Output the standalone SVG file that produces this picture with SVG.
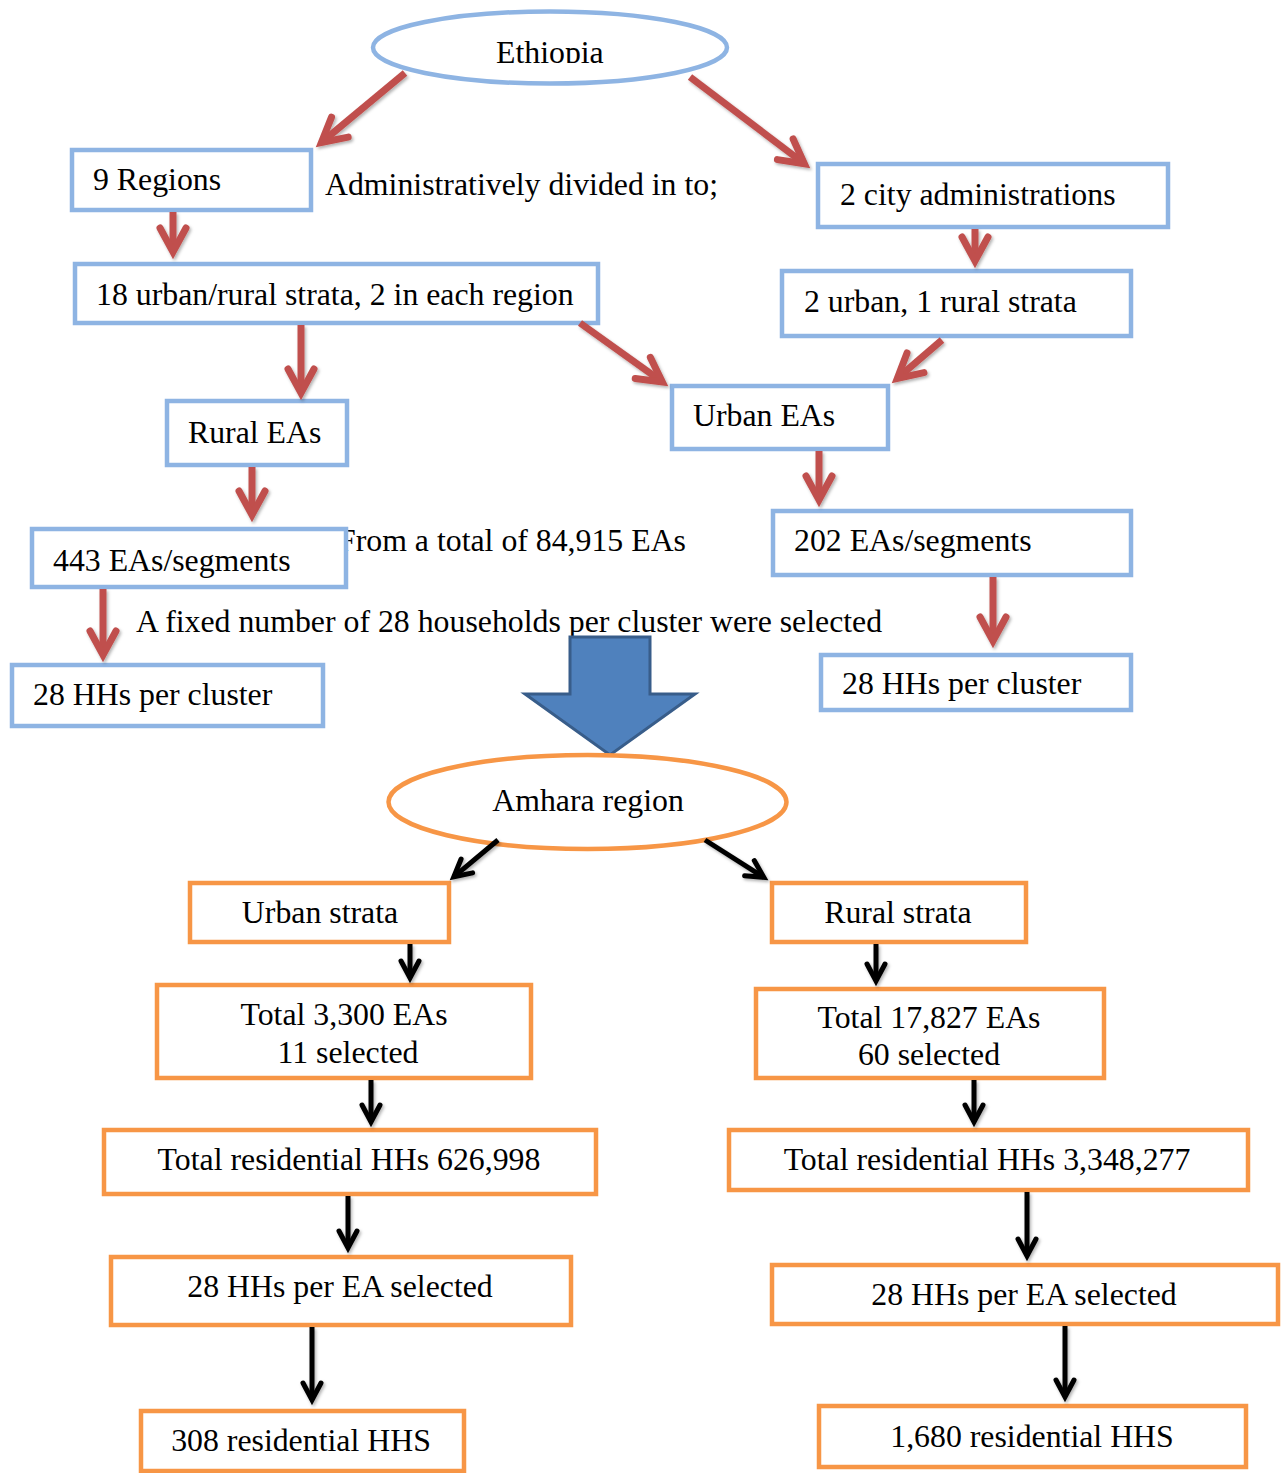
<svg xmlns="http://www.w3.org/2000/svg" width="1285" height="1473" viewBox="0 0 1285 1473">
<style>
text{font-family:"Liberation Serif","Times New Roman",serif;font-size:31.8px;fill:#000}
.c{text-anchor:middle}
.bb{fill:#fff;stroke:#8EB4E3;stroke-width:4.5}
.ob{fill:#fff;stroke:#F79646;stroke-width:4.5}
.red{stroke:#C0504D;stroke-width:7;fill:none;marker-end:url(#rh)}
.blk{stroke:#000;stroke-width:5;fill:none;marker-end:url(#bh)}
</style>
<defs>
<marker id="rh" markerUnits="userSpaceOnUse" orient="auto" refX="0" refY="0" markerWidth="60" markerHeight="60" overflow="visible">
<path d="M-24,-13 L0,0 L-24,13" fill="none" stroke="#C0504D" stroke-width="7" stroke-linecap="round"/>
</marker>
<marker id="bh" markerUnits="userSpaceOnUse" orient="auto" refX="0" refY="0" markerWidth="40" markerHeight="40" overflow="visible">
<path d="M-17,-9 L0,0 L-17,9" fill="none" stroke="#000" stroke-width="5" stroke-linecap="round"/>
</marker>
<filter id="sh" x="-20%" y="-20%" width="140%" height="140%">
<feDropShadow dx="1.5" dy="2" stdDeviation="1.5" flood-color="#000" flood-opacity="0.3"/>
</filter>
<clipPath id="ethclip"><rect x="370" y="0" width="360" height="63"/></clipPath>
</defs>

<g id="labels">
<text x="325" y="195">Administratively divided in to;</text>
<text x="338" y="551">From a total of 84,915 EAs</text>
<text x="136" y="632">A fixed number of 28 households per cluster were selected</text>
</g>

<g id="n-ethiopia">
<ellipse cx="550" cy="47.5" rx="177" ry="36" fill="#fff" stroke="#8EB4E3" stroke-width="4.5"/>
<text x="496" y="63" clip-path="url(#ethclip)">Ethiopia</text>
</g>
<g id="n-regions"><rect class="bb" x="72" y="150" width="239" height="60"/><text x="93" y="190">9 Regions</text></g>
<g id="n-city"><rect class="bb" x="818" y="164" width="350" height="63"/><text x="840" y="205">2 city administrations</text></g>
<g id="n-strata18"><rect class="bb" x="75" y="264" width="523" height="59"/><text x="96" y="305">18 urban/rural strata, 2 in each region</text></g>
<g id="n-strata3"><rect class="bb" x="782" y="271" width="349" height="65"/><text x="804" y="312">2 urban, 1 rural strata</text></g>
<g id="n-ruralEA"><rect class="bb" x="167" y="401" width="180" height="64"/><text x="188" y="443">Rural EAs</text></g>
<g id="n-urbanEA"><rect class="bb" x="672" y="386" width="216" height="63"/><text x="693" y="426">Urban EAs</text></g>
<g id="n-443"><rect class="bb" x="32" y="529" width="314" height="58"/><text x="53" y="571">443 EAs/segments</text></g>
<g id="n-202"><rect class="bb" x="773" y="511" width="358" height="64"/><text x="794" y="551">202 EAs/segments</text></g>
<g id="n-hhL"><rect class="bb" x="12" y="665" width="311" height="61"/><text x="33" y="705">28 HHs per cluster</text></g>
<g id="n-hhR"><rect class="bb" x="821" y="655" width="310" height="55"/><text x="842" y="694">28 HHs per cluster</text></g>

<g id="n-blockarrow">
<polygon points="570,637 650,637 650,694 695,694 610,755 525,694 570,694" fill="#4F81BD" stroke="#385D8A" stroke-width="3" stroke-linejoin="miter"/>
</g>

<g id="n-amhara">
<ellipse cx="587.5" cy="802" rx="199" ry="47" fill="#fff" stroke="#F79646" stroke-width="4.5"/>
<text class="c" x="588" y="811">Amhara region</text>
</g>
<g id="n-urbanstrata"><rect class="ob" x="190" y="883" width="259" height="59"/><text class="c" x="320" y="923">Urban strata</text></g>
<g id="n-ruralstrata"><rect class="ob" x="772" y="883" width="254" height="59"/><text class="c" x="898" y="923">Rural strata</text></g>
<g id="n-u3300"><rect class="ob" x="157" y="985" width="374" height="93"/><text class="c" x="344" y="1025">Total 3,300 EAs</text><text class="c" x="348" y="1063">11 selected</text></g>
<g id="n-r17827"><rect class="ob" x="756" y="989" width="348" height="89"/><text class="c" x="929" y="1028">Total 17,827 EAs</text><text class="c" x="929" y="1065">60 selected</text></g>
<g id="n-uHH"><rect class="ob" x="104" y="1130" width="492" height="64"/><text class="c" x="349" y="1170">Total residential HHs 626,998</text></g>
<g id="n-rHH"><rect class="ob" x="729" y="1130" width="519" height="60"/><text class="c" x="987" y="1170">Total residential HHs 3,348,277</text></g>
<g id="n-u28"><rect class="ob" x="111" y="1257" width="460" height="68"/><text class="c" x="340" y="1297">28 HHs per EA selected</text></g>
<g id="n-r28"><rect class="ob" x="772" y="1265" width="506" height="59"/><text class="c" x="1024" y="1305">28 HHs per EA selected</text></g>
<g id="n-u308"><rect class="ob" x="141" y="1411" width="323" height="60"/><text class="c" x="301" y="1451">308 residential HHS</text></g>
<g id="n-r1680"><rect class="ob" x="819" y="1406" width="427" height="61"/><text class="c" x="1032" y="1447">1,680 residential HHS</text></g>

<g id="connectors" filter="url(#sh)">
<path class="red" d="M405,73 L321.4,142.5"/>
<path class="red" d="M690,77 L804.4,163.8"/>
<path class="red" d="M173,212 L173,252"/>
<path class="red" d="M975,229 L975,261"/>
<path class="red" d="M301,325 L301,393"/>
<path class="red" d="M580,323 L662.3,381.9"/>
<path class="red" d="M942,340 L897.3,378.4"/>
<path class="red" d="M252,467 L252,515"/>
<path class="red" d="M103,589 L103,655"/>
<path class="red" d="M819,451 L819,500"/>
<path class="red" d="M993,577 L993,641"/>
<path class="blk" d="M498,840 L453.8,876.8"/>
<path class="blk" d="M705,840 L763.8,877.3"/>
<path class="blk" d="M410,944 L410,978"/>
<path class="blk" d="M371,1080 L371,1122"/>
<path class="blk" d="M876,944 L876,981"/>
<path class="blk" d="M974,1080 L974,1122"/>
<path class="blk" d="M348,1196 L348,1248"/>
<path class="blk" d="M312,1327 L312,1400"/>
<path class="blk" d="M1027,1192 L1027,1256"/>
<path class="blk" d="M1065,1326 L1065,1397"/>
</g>
</svg>
